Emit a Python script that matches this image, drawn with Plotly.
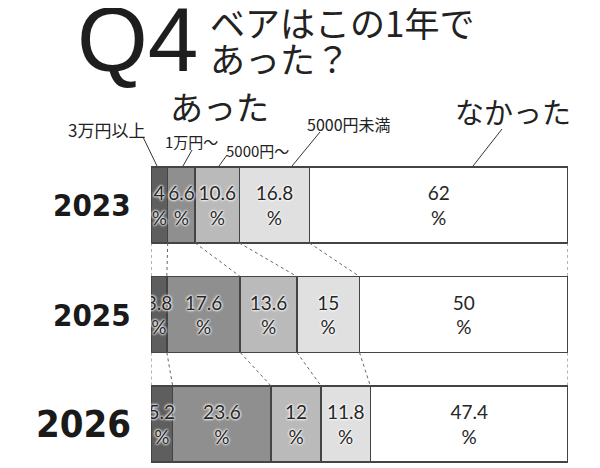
import plotly.graph_objects as go

# data
years = ["2023", "2025", "2026"]
groups = ["3万円以上", "1万円～", "5000円～", "5000円未満", "なかった"]
over_30k = [4, 3.8, 5.2]
over_10k = [6.6, 17.6, 23.6]
over_5k = [10.6, 13.6, 12]
under_5k = [16.8, 15, 11.8]
none = [62, 50, 47.4]

series = [over_30k, over_10k, over_5k, under_5k, none]
colors = ["#5e5e5e", "#8f8f8f", "#bababa", "#e0e0e0", "#ffffff"]

W, H = 600, 468
OFF = 8  # page body margin
# plot area in picture pixels
PL, PR, PT, PB = 151, 568, 140, 468
BAR_W = 0.694
JP = "Noto Sans CJK JP"
NARROW = "Liberation Sans Narrow, DejaVu Sans Condensed, sans-serif"

rows = list(range(len(years)))


def px(x):
    return (x - PL) / (PR - PL)


def py(y):
    return (PB - y) / (PB - PT)


fig = go.Figure()
for name, vals, col in zip(groups, series, colors):
    fig.add_trace(go.Bar(
        y=rows, x=vals, name=name, orientation="h", width=BAR_W,
        marker=dict(color=col, line=dict(color="#444444", width=1.5)),
        hoverinfo="skip", showlegend=False))

# value labels in the middle of every segment
lx, ly, lt = [], [], []
for i in rows:
    start = 0
    for vals in series:
        v = vals[i]
        lx.append(start + v / 2)
        ly.append(i + 0.025)
        lt.append(f"{v:g}<br>%")
        start += v
fig.add_trace(go.Scatter(
    x=lx, y=ly, text=lt, mode="text", showlegend=False, hoverinfo="skip",
    textfont=dict(family="Lato, Open Sans, sans-serif", size=19, color="#262626",
                  shadow="0px 0px 3px white, 0px 0px 3px white, 0px 0px 2px white")))

# dotted connectors between boundaries of neighbouring bars
shapes = []
cums = []
for i in rows:
    c = [0]
    for vals in series:
        c.append(c[-1] + vals[i])
    cums.append(c)
for i in rows[:-1]:
    for a, b in zip(cums[i], cums[i + 1]):
        shapes.append(dict(type="line", xref="x", yref="y",
                           x0=a, y0=i + BAR_W / 2, x1=b, y1=i + 1 - BAR_W / 2,
                           line=dict(color="#666666", width=1, dash="dot")))

# leader lines from category labels to the 2023 bar
leaders = [(143, 137, 157, 166), (192, 150, 183, 166), (227, 155, 219, 166),
           (320, 132, 292, 166), (502, 129, 473, 166)]
for x0, y0, x1, y1 in leaders:
    shapes.append(dict(type="line", xref="paper", yref="paper",
                       x0=px(x0), y0=py(y0), x1=px(x1), y1=py(y1),
                       line=dict(color="#333333", width=1)))

annotations = []


def note(text, x, y, size, family=JP, xanchor="center", color="#222222"):
    annotations.append(dict(text=text, x=px(x), y=py(y), xref="paper", yref="paper",
                            xanchor=xanchor, yanchor="middle", showarrow=False,
                            font=dict(family=family, size=size, color=color)))


note("Q4", 137, 40, 91, family="Liberation Sans, Arial, sans-serif", color="#1e1e1e")
note("ベアはこの1年で", 208, 22, 35, xanchor="left")
note("あった？", 208, 57, 35, xanchor="left")
note("あった", 219, 106, 33)
note("なかった", 513, 111, 29)
note(groups[0], 106, 129, 17)
note(groups[1], 191, 141, 15)
note(groups[2], 257, 150, 15)
note(groups[3], 349, 124, 16)

# year labels, left of each bar
for i, yr in zip(rows, years):
    size = 38 if yr == "2026" else 31
    annotations.append(dict(text="<b>" + yr + "</b>", x=px(133), y=i, xref="paper", yref="y",
                            xanchor="right", yanchor="middle", showarrow=False,
                            font=dict(family=NARROW, size=size, color="#1a1a1a")))

r0 = -0.5936
r1 = r0 + (PB - PT) / 109.5
hidden = dict(showticklabels=False, showgrid=False, zeroline=False,
              showline=False, ticks="")
fig.update_layout(
    width=W, height=H, barmode="stack",
    margin=dict(l=PL - OFF, r=W - (PR - OFF), t=PT - OFF, b=H - (PB - OFF)),
    paper_bgcolor="white", plot_bgcolor="white",
    xaxis=dict(range=[0, 100], **hidden),
    yaxis=dict(range=[r1, r0], **hidden),
    shapes=shapes, annotations=annotations,
)

fig.write_html("out.html")
